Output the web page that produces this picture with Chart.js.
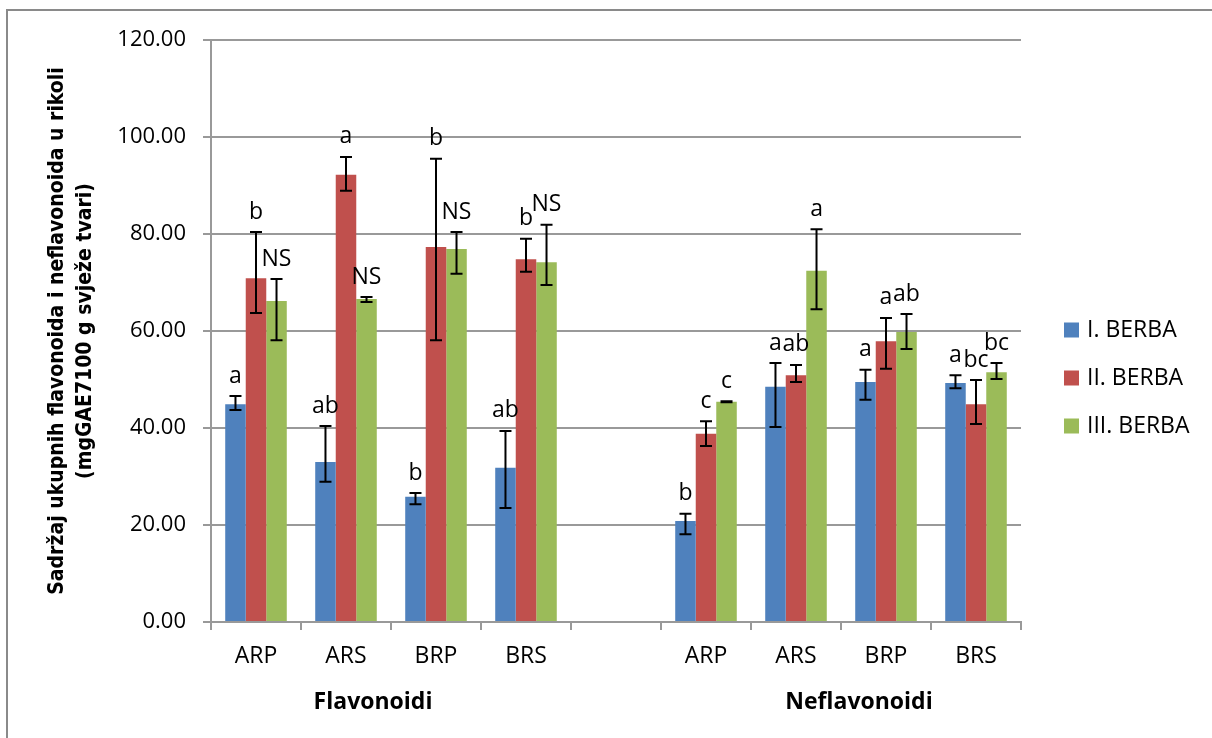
<!DOCTYPE html>
<html>
<head>
<meta charset="utf-8">
<script src="https://cdn.jsdelivr.net/npm/chart.js@4/dist/chart.umd.min.js"></script>
<style>
  body { margin: 0; background: #fff; }
  #wrap { position: relative; width: 1212px; height: 738px; overflow: hidden; }
  #frame { position: absolute; left: 6px; top: 9px; width: 1300px; height: 800px; border-top: 2px solid #8a8a8a; border-left: 2px solid #8a8a8a; }
  canvas { position: absolute; left: 0; top: 0; }
</style>
</head>
<body>
<div id="wrap">
  <div id="frame"></div>
  <canvas id="myChart" width="1212" height="738"></canvas>
</div>
<script>
// categories (blank slot separates the two groups)
let categories = ['ARP', 'ARS', 'BRP', 'BRS', '', 'ARP', 'ARS', 'BRP', 'BRS']
let groups = ['Flavonoidi', 'Neflavonoidi']
let seriesNames = ['I. BERBA', 'II. BERBA', 'III. BERBA']
let seriesColors = ['#4F81BD', '#C0504D', '#9BBB59']

let berba1 = [44.9, 33.0, 25.8, 31.8, null, 20.8, 48.5, 49.5, 49.3]
let berba1Low = [43.7, 28.9, 24.3, 23.5, null, 18.1, 40.2, 45.8, 48.2]
let berba1High = [46.6, 40.4, 26.6, 39.4, null, 22.3, 53.4, 52.0, 50.9]
let berba1Letters = ['a', 'ab', 'b', 'ab', '', 'b', 'a', 'a', 'a']

let berba2 = [70.9, 92.2, 77.3, 74.8, null, 38.8, 50.9, 57.9, 44.9]
let berba2Low = [63.7, 88.9, 58.1, 72.2, null, 36.3, 49.5, 52.2, 40.8]
let berba2High = [80.4, 95.9, 95.5, 79.0, null, 41.4, 53.0, 62.7, 49.9]
let berba2Letters = ['b', 'a', 'b', 'b', '', 'c', 'ab', 'a', 'bc']

let berba3 = [66.2, 66.6, 76.9, 74.2, null, 45.4, 72.4, 59.8, 51.5]
let berba3Low = [58.1, 66.0, 71.8, 69.5, null, 45.3, 64.5, 56.3, 50.1]
let berba3High = [70.7, 67.0, 80.4, 81.9, null, 45.5, 81.0, 63.5, 53.4]
let berba3Letters = ['NS', 'NS', 'NS', 'NS', '', 'c', 'a', 'ab', 'bc']

let yTicks = [0, 20, 40, 60, 80, 100, 120]

let allValues = [berba1, berba2, berba3]
let allLow = [berba1Low, berba2Low, berba3Low]
let allHigh = [berba1High, berba2High, berba3High]
let allLetters = [berba1Letters, berba2Letters, berba3Letters]

const regFont = "'Open Sans', 'Noto Sans', sans-serif"

// error bars + significance letters
let errorBars = {
  id: 'errorBars',
  afterDatasetsDraw(chart) {
    let ctx = chart.ctx
    let y = chart.scales.y
    ctx.save()
    chart.data.datasets.forEach(function(ds, di) {
      let meta = chart.getDatasetMeta(di)
      meta.data.forEach(function(bar, i) {
        if (allValues[di][i] == null) return
        let yl = y.getPixelForValue(allLow[di][i])
        let yh = y.getPixelForValue(allHigh[di][i])
        ctx.strokeStyle = '#000'
        ctx.lineWidth = 2
        ctx.beginPath()
        ctx.moveTo(bar.x, yl); ctx.lineTo(bar.x, yh)
        ctx.moveTo(bar.x - 6, yl); ctx.lineTo(bar.x + 6, yl)
        ctx.moveTo(bar.x - 6, yh); ctx.lineTo(bar.x + 6, yh)
        ctx.stroke()
        ctx.fillStyle = '#000'
        ctx.font = '23px ' + regFont
        ctx.textAlign = 'center'
        ctx.textBaseline = 'middle'
        ctx.fillText(allLetters[di][i], bar.x, yh - 20)
      })
    })
    ctx.restore()
  }
}

// group labels under the axis and the legend on the right
let extras = {
  id: 'extras',
  afterDraw(chart) {
    let ctx = chart.ctx
    let x = chart.scales.x
    ctx.save()
    ctx.fillStyle = '#000'
    ctx.textAlign = 'center'
    ctx.textBaseline = 'middle'
    ctx.font = 'bold 23px ' + regFont
    ctx.fillText(groups[0], x.getPixelForDecimal(0.2), 702)
    ctx.fillText(groups[1], x.getPixelForDecimal(0.8), 702)
    ctx.font = '23px ' + regFont
    ctx.textAlign = 'left'
    seriesNames.forEach(function(n, i) {
      let cy = 330 + i * 48
      ctx.fillStyle = seriesColors[i]
      ctx.fillRect(1064, cy - 7.5, 15, 15)
      ctx.fillStyle = '#000'
      ctx.fillText(n, 1087, cy)
    })
    ctx.restore()
  }
}

let datasets = []
for (let i = 0; i < 3; i++) {
  datasets.push({
    label: seriesNames[i],
    data: allValues[i],
    backgroundColor: seriesColors[i],
    categoryPercentage: 0.684,
    barPercentage: 1.0
  })
}

let cur_chart = new Chart(document.getElementById('myChart'), {
  type: 'bar',
  data: { labels: categories, datasets: datasets },
  plugins: [errorBars, extras],
  options: {
    responsive: false,
    animation: false,
    layout: { padding: { top: 40, right: 191, bottom: 0, left: 0 } },
    plugins: { legend: { display: false }, tooltip: { enabled: false } },
    scales: {
      x: {
        grid: { drawOnChartArea: false, drawTicks: true, tickLength: 8, color: '#999', lineWidth: 2, offset: true },
        border: { color: '#999', width: 2 },
        ticks: { color: '#000', font: { family: regFont, size: 23 }, padding: 13, maxRotation: 0, autoSkip: false },
        afterFit: function(s) { s.height = 116 }
      },
      y: {
        min: 0, max: 120,
        afterBuildTicks: function(s) { s.ticks = yTicks.map(function(v) { return { value: v } }) },
        grid: { color: '#999', lineWidth: 2, tickLength: 8 },
        border: { color: '#999', width: 2 },
        ticks: { color: '#000', font: { family: regFont, size: 22 }, padding: 17, callback: function(v) { return v.toFixed(2) } },
        title: {
          display: true,
          text: ['Sadržaj ukupnih flavonoida i neflavonoida u rikoli', '(mgGAE7100 g svježe tvari)'],
          color: '#000',
          font: { family: "'Liberation Sans Narrow', 'DejaVu Sans Condensed', 'Roboto', sans-serif", size: 21, weight: 'bold', lineHeight: 1.35 },
          padding: { top: 43, bottom: 0 }
        },
        afterFit: function(s) { s.width = 211 }
      }
    }
  }
})
</script>
</body>
</html>
